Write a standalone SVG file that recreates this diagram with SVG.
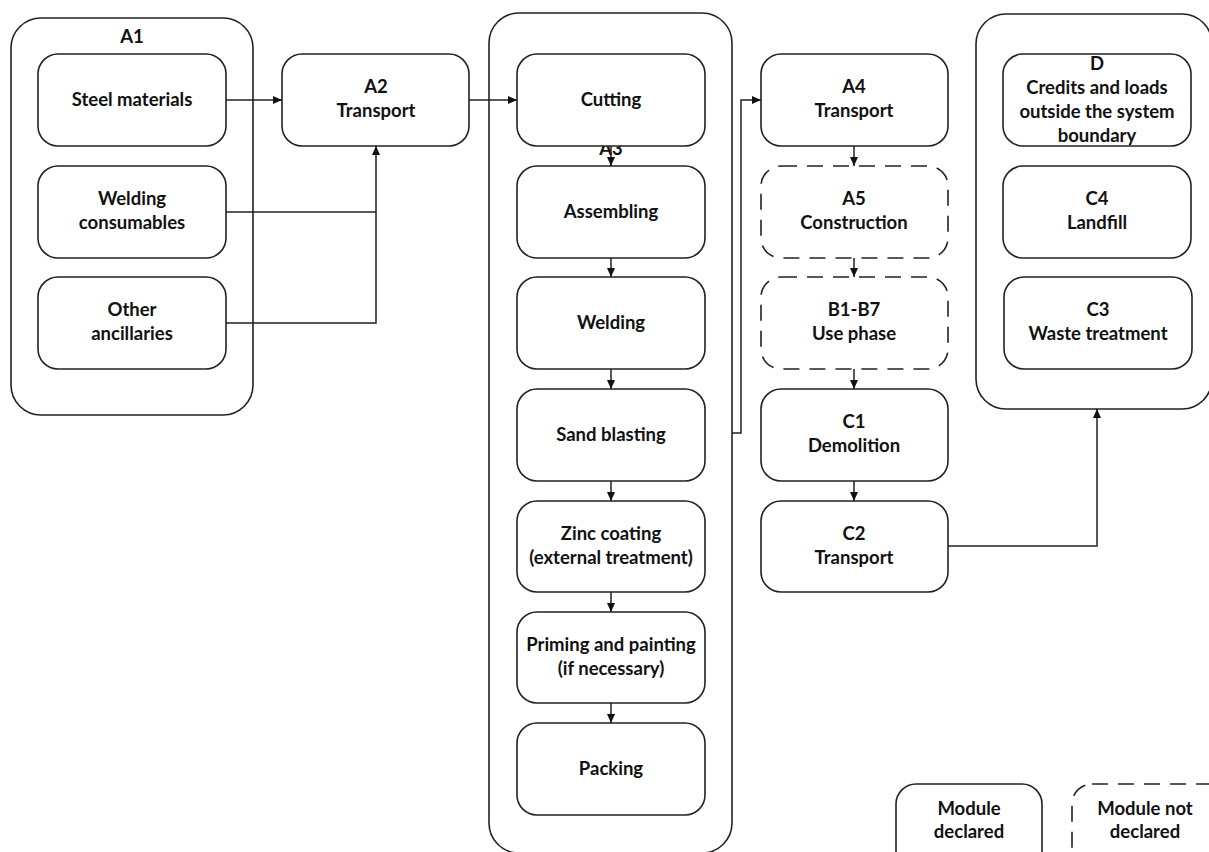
<svg xmlns="http://www.w3.org/2000/svg" width="1209" height="852" viewBox="0 0 1209 852">
<defs>
<style>
.box{fill:#fff;stroke:#222;stroke-width:1.6}
.dash{fill:#fff;stroke:#222;stroke-width:1.6;stroke-dasharray:16 10}
.cont{fill:none;stroke:#222;stroke-width:1.6}
.t{font-family:Lato,"Liberation Sans",sans-serif;font-weight:700;font-size:18.5px;fill:#111;text-anchor:middle}
.c{fill:none;stroke:#222;stroke-width:1.5}
</style>
<marker id="ah" markerWidth="10" markerHeight="10" refX="9" refY="5" orient="auto" markerUnits="userSpaceOnUse">
<path d="M0,1 L9,5 L0,9 Z" fill="#111"/>
</marker>
</defs>
<rect width="1209" height="852" fill="#fff"/>

<g id="A1-group">
<rect class="cont" x="11" y="18" width="242" height="397" rx="30"/>
<text class="t" x="132" y="43">A1</text>
</g>
<g id="A3-group">
<rect class="cont" x="489" y="13" width="243" height="840" rx="30"/>
<text class="t" x="611" y="155">A3</text>
</g>
<g id="D-group">
<rect class="cont" x="976" y="14" width="236" height="395" rx="30"/>
</g>

<g id="connectors">
<path class="c" d="M226,100 H282" marker-end="url(#ah)"/>
<path class="c" d="M226,212 H376"/>
<path class="c" d="M226,323 H376 V146" marker-end="url(#ah)"/>
<path class="c" d="M469,100 H517" marker-end="url(#ah)"/>
<path class="c" d="M611,146 V166" marker-end="url(#ah)"/>
<path class="c" d="M611,258 V277" marker-end="url(#ah)"/>
<path class="c" d="M611,369 V389" marker-end="url(#ah)"/>
<path class="c" d="M611,481 V501" marker-end="url(#ah)"/>
<path class="c" d="M611,592 V612" marker-end="url(#ah)"/>
<path class="c" d="M611,703 V723" marker-end="url(#ah)"/>
<path class="c" d="M732,433 H741 V100 H761" marker-end="url(#ah)"/>
<path class="c" d="M854,146 V166" marker-end="url(#ah)"/>
<path class="c" d="M854,258 V277" marker-end="url(#ah)"/>
<path class="c" d="M854,369 V389" marker-end="url(#ah)"/>
<path class="c" d="M854,481 V501" marker-end="url(#ah)"/>
<path class="c" d="M948,546 H1097 V409" marker-end="url(#ah)"/>
</g>

<g id="steel"><rect class="box" x="38" y="54" width="188" height="92" rx="20"/><text class="t" x="132" y="106">Steel materials</text></g>
<g id="welding-cons"><rect class="box" x="38" y="166" width="188" height="92" rx="20"/><text class="t" x="132" y="205">Welding</text><text class="t" x="132" y="229">consumables</text></g>
<g id="other"><rect class="box" x="38" y="277" width="188" height="92" rx="20"/><text class="t" x="132" y="316">Other</text><text class="t" x="132" y="340">ancillaries</text></g>
<g id="A2"><rect class="box" x="282" y="54" width="187" height="92" rx="20"/><text class="t" x="376" y="93">A2</text><text class="t" x="376" y="117">Transport</text></g>

<g id="cutting"><rect class="box" x="517" y="54" width="188" height="92" rx="20"/><text class="t" x="611" y="106">Cutting</text></g>
<g id="assembling"><rect class="box" x="517" y="166" width="188" height="92" rx="20"/><text class="t" x="611" y="218">Assembling</text></g>
<g id="welding"><rect class="box" x="517" y="277" width="188" height="92" rx="20"/><text class="t" x="611" y="329">Welding</text></g>
<g id="sand"><rect class="box" x="517" y="389" width="188" height="92" rx="20"/><text class="t" x="611" y="441">Sand blasting</text></g>
<g id="zinc"><rect class="box" x="517" y="501" width="188" height="91" rx="20"/><text class="t" x="611" y="540">Zinc coating</text><text class="t" x="611" y="564">(external treatment)</text></g>
<g id="priming"><rect class="box" x="517" y="612" width="188" height="91" rx="20"/><text class="t" x="611" y="651">Priming and painting</text><text class="t" x="611" y="675">(if necessary)</text></g>
<g id="packing"><rect class="box" x="517" y="723" width="188" height="92" rx="20"/><text class="t" x="611" y="775">Packing</text></g>

<g id="A4"><rect class="box" x="761" y="54" width="187" height="92" rx="20"/><text class="t" x="854" y="93">A4</text><text class="t" x="854" y="117">Transport</text></g>
<g id="A5"><rect class="dash" x="761" y="166" width="187" height="92" rx="20"/><text class="t" x="854" y="205">A5</text><text class="t" x="854" y="229">Construction</text></g>
<g id="B1-B7"><rect class="dash" x="761" y="277" width="187" height="92" rx="20"/><text class="t" x="854" y="316">B1-B7</text><text class="t" x="854" y="340">Use phase</text></g>
<g id="C1"><rect class="box" x="761" y="389" width="187" height="92" rx="20"/><text class="t" x="854" y="428">C1</text><text class="t" x="854" y="452">Demolition</text></g>
<g id="C2"><rect class="box" x="761" y="501" width="187" height="91" rx="20"/><text class="t" x="854" y="540">C2</text><text class="t" x="854" y="564">Transport</text></g>

<g id="D"><rect class="box" x="1003" y="54" width="188" height="92" rx="20"/><text class="t" x="1097" y="70">D</text><text class="t" x="1097" y="94">Credits and loads</text><text class="t" x="1097" y="118">outside the system</text><text class="t" x="1097" y="142">boundary</text></g>
<g id="C4"><rect class="box" x="1003" y="166" width="188" height="92" rx="20"/><text class="t" x="1097" y="205">C4</text><text class="t" x="1097" y="229">Landfill</text></g>
<g id="C3"><rect class="box" x="1004" y="277" width="188" height="92" rx="20"/><text class="t" x="1098" y="316">C3</text><text class="t" x="1098" y="340">Waste treatment</text></g>

<g id="legend-declared"><rect class="box" x="896" y="784" width="146" height="90" rx="20"/><text class="t" x="969" y="815">Module</text><text class="t" x="969" y="838">declared</text></g>
<g id="legend-not-declared"><rect class="dash" x="1072" y="784" width="160" height="90" rx="20"/><text class="t" x="1145" y="815">Module not</text><text class="t" x="1145" y="838">declared</text></g>
</svg>
